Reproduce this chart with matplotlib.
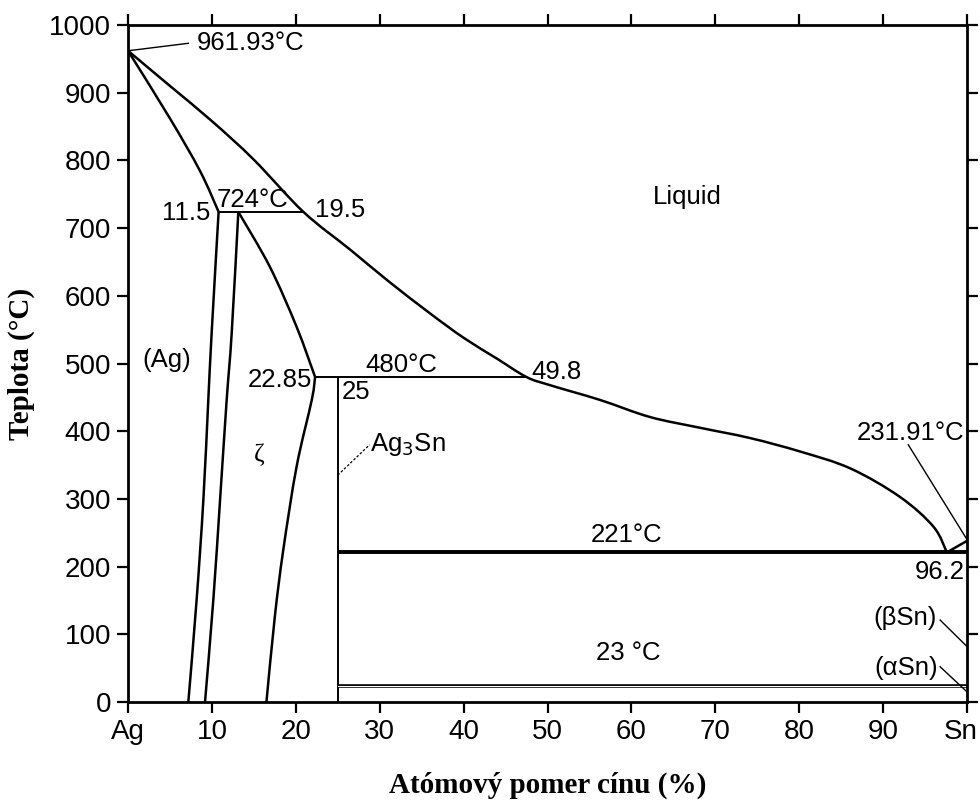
import matplotlib
matplotlib.use('Agg')
import matplotlib.pyplot as plt
import matplotlib.ticker as mticker
import matplotlib.transforms as mtransforms
from matplotlib.path import Path
from matplotlib.patches import PathPatch

# phase boundaries (x = at.% Sn, T = degC)
liq_x = [0, 5, 10, 15, 20.9, 26.5, 31.0, 36.0, 40.0, 44.0, 47.5, 50.3, 56.3,
         62.2, 68.2, 74.1, 80.1, 86.1, 92.0, 96.0, 97.6]
liq_t = [961.93, 910, 858, 801, 724, 668, 622, 574, 538, 507, 480, 468, 446,
         421, 405, 390, 370, 345, 303, 259, 221]

sol_ag_x = [0, 5.0, 8.6, 10.8]
sol_ag_t = [961.93, 862, 784, 724]

solv_ag_x = [10.8, 9.97, 9.57, 8.98, 8.18, 7.19]
solv_ag_t = [724, 545, 446, 298, 151, 0]

zeta_l_x = [13.15, 12.36, 11.76, 10.97, 10.17, 9.18]
zeta_l_t = [724, 545, 446, 298, 151, 0]

zeta_up_x = [13.15, 16.9, 20.1, 22.3]
zeta_up_t = [724, 643, 554, 480]
zeta_lo_x = [22.3, 21.9, 20.1, 18.5, 17.5, 16.5]
zeta_lo_t = [480, 446, 348, 224, 126, 0]

sn_x = [97.6, 100]
sn_t = [221, 238]

# invariant lines: (x_start, x_end, T)
peri_724 = (10.8, 20.9, 724)
peri_480 = (22.3, 47.5, 480)
eut_221 = (25, 100, 221)
trans_23 = (25, 100, 23)
ag3sn_x = 25

xtick_vals = [0, 10, 20, 30, 40, 50, 60, 70, 80, 90, 100]
xtick_labels = ['Ag', '10', '20', '30', '40', '50', '60', '70', '80', '90', 'Sn']

sans = 'Liberation Sans'
serif = 'Liberation Serif'


def smooth(ax, xs, ys, lw=1.8):
    # catmull-rom through the read points, drawn as bezier path
    pts = list(zip(xs, ys))
    verts = [pts[0]]
    codes = [Path.MOVETO]
    n = len(pts)
    for i in range(n - 1):
        p0 = pts[i - 1] if i > 0 else pts[i]
        p1, p2 = pts[i], pts[i + 1]
        p3 = pts[i + 2] if i + 2 < n else p2
        c1 = (p1[0] + (p2[0] - p0[0]) / 6, p1[1] + (p2[1] - p0[1]) / 6)
        c2 = (p2[0] - (p3[0] - p1[0]) / 6, p2[1] - (p3[1] - p1[1]) / 6)
        verts += [c1, c2, p2]
        codes += [Path.CURVE4] * 3
    ax.add_patch(PathPatch(Path(verts, codes), fill=False, lw=lw,
                           edgecolor='black', capstyle='butt'))


fig = plt.figure(figsize=(9.8, 8.09), dpi=100)
ax = fig.add_axes([128/980, 1-702/809, (967-128)/980, (702-25)/809])

for xs, ys in [(liq_x, liq_t), (sol_ag_x, sol_ag_t), (solv_ag_x, solv_ag_t),
               (zeta_l_x, zeta_l_t), (zeta_up_x, zeta_up_t),
               (zeta_lo_x, zeta_lo_t), (sn_x, sn_t)]:
    smooth(ax, xs, ys)

k = dict(color='black', solid_capstyle='butt')
ax.plot(peri_724[:2], [peri_724[2]]*2, lw=1.4, **k)
ax.plot(peri_480[:2], [peri_480[2]]*2, lw=1.4, **k)
ax.plot([ag3sn_x, ag3sn_x], [0, peri_480[2]], lw=1.4, **k)
ax.plot(eut_221[:2], [eut_221[2]]*2, lw=2.8, **k)
ax.plot(trans_23[:2], [trans_23[2]]*2, lw=2.6, **k)
ax.plot(trans_23[:2], [trans_23[2]]*2, lw=0.8, color='white')

# leader lines
lead = dict(color='black', lw=1.0)
ax.plot([0, 7.2], [961.93, 973], **lead)
ax.plot([25, 28.8], [335, 380], color='black', lw=0.9, ls=(0, (2, 1.5)))
ax.plot([93.0, 100], [380, 240], **lead)
ax.plot([96.8, 100], [121, 82], **lead)
ax.plot([96.8, 100], [52, 15], **lead)

fs = 18.5
def lab(x, y, s, ha='left', va='center', family=sans, **kw):
    ax.text(x, y, s, ha=ha, va=va, fontsize=fs, family=family, **kw)

lab(8.2, 973, '961.93°C')
lab(14.8, 741, '724°C', ha='center')
lab(9.8, 722, '11.5', ha='right')
lab(22.3, 727, '19.5')
lab(66.7, 746, 'Liquid', ha='center')
lab(4.6, 505, '(Ag)', ha='center')
lab(21.9, 476, '22.85', ha='right')
lab(25.5, 458, '25')
lab(32.6, 498, '480°C', ha='center')
lab(48.1, 488, '49.8')
lab(15.7, 365, 'ζ', ha='center', family=serif)
lab(28.8, 380, 'Ag$_3$Sn')
lab(99.7, 397, '231.91°C', ha='right')
lab(59.4, 247, '221°C', ha='center')
lab(99.7, 192, '96.2', ha='right')
lab(96.4, 124, '(βSn)', ha='right')
lab(96.6, 50, '(αSn)', ha='right')
lab(59.6, 73, '23 °C', ha='center')

ax.set_xlim(0, 100)
ax.set_ylim(0, 1000)
ax.xaxis.set_major_locator(mticker.FixedLocator(xtick_vals))
ax.set_xticklabels(xtick_labels)
ax.yaxis.set_major_locator(mticker.MultipleLocator(100))
ax.tick_params(direction='out', length=8, width=1.6, top=True, right=True,
               labelsize=20, pad=4)
for t in ax.get_xticklabels() + ax.get_yticklabels():
    t.set_family(sans)
for sp in ax.spines.values():
    sp.set_linewidth(2.0)

# keep "Sn" inside the figure edge
sn_lab = ax.get_xticklabels()[-1]
sn_lab.set_transform(sn_lab.get_transform() +
                     mtransforms.ScaledTranslation(-6/100, 0, fig.dpi_scale_trans))

ax.set_xlabel('Atómový pomer cínu (%)', family=serif, fontweight='bold',
              fontsize=21, va='center')
ax.set_ylabel('Teplota (°C)', family=serif, fontweight='bold',
              fontsize=21, va='center')
ax.xaxis.set_label_coords(0.5, -0.123)
ax.yaxis.set_label_coords(-0.127, 0.5)

fig.savefig('out.png', dpi=100)
